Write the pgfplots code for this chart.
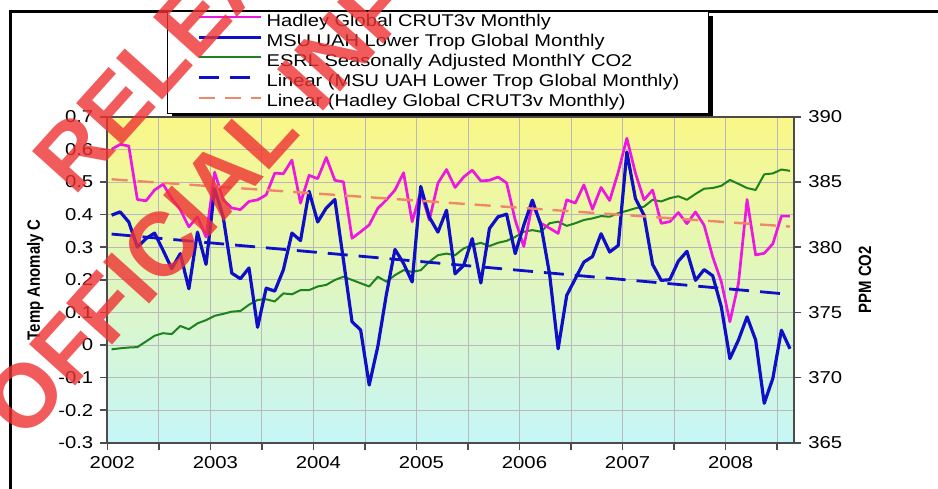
\documentclass[border=0pt]{standalone}
\usepackage{fontspec}
\setmainfont{Liberation Sans}
\newfontfamily\ticfont{Liberation Sans}[FakeStretch=1.18]
\newfontfamily\titfont{Liberation Sans}[FakeStretch=0.84]
\usepackage{pgfplots}
\usepackage{pgfplotstable}
\pgfplotsset{compat=1.18}

\definecolor{hadley}{RGB}{236,24,226}
\definecolor{uah}{RGB}{15,15,200}
\definecolor{co2}{RGB}{30,130,30}
\definecolor{trendh}{RGB}{240,135,105}
\definecolor{stamp}{RGB}{238,50,50}
\definecolor{bgtop}{RGB}{250,247,135}
\definecolor{bgbot}{RGB}{198,246,248}

% monthly values, x = month index + 0.5 (Jan 2002 = 0)
\pgfplotstableread{
m    had   uah    co2
0.5  0.600 0.398  372.16
1.5  0.615 0.408  372.24
2.5  0.610 0.377  372.30
3.5  0.446 0.300  372.33
4.5  0.442 0.326  372.76
5.5  0.475 0.343  373.20
6.5  0.493 0.290  373.40
7.5  0.449 0.234  373.33
8.5  0.415 0.280  373.95
9.5  0.362 0.172  373.70
10.5 0.393 0.346  374.15
11.5 0.331 0.247  374.40
12.5 0.530 0.479  374.73
13.5 0.445 0.392  374.88
14.5 0.420 0.220  375.05
15.5 0.415 0.203  375.10
16.5 0.440 0.236  375.58
17.5 0.445 0.054  375.95
18.5 0.460 0.174  376.00
19.5 0.527 0.165  375.83
20.5 0.525 0.230  376.45
21.5 0.567 0.343  376.38
22.5 0.435 0.320  376.70
23.5 0.520 0.471  376.70
24.5 0.510 0.377  376.98
25.5 0.575 0.420  377.10
26.5 0.505 0.446  377.48
27.5 0.500 0.260  377.73
28.5 0.327 0.071  377.48
29.5 0.347 0.046  377.23
30.5 0.368 -0.123 376.98
31.5 0.419 -0.005 377.73
32.5 0.445 0.155  377.35
33.5 0.475 0.293  377.85
34.5 0.528 0.250  378.23
35.5 0.378 0.193  378.10
36.5 0.470 0.486  378.23
37.5 0.383 0.392  378.88
38.5 0.496 0.346  379.38
39.5 0.538 0.413  379.50
40.5 0.483 0.218  379.38
41.5 0.515 0.244  379.90
42.5 0.536 0.326  380.15
43.5 0.503 0.190  380.33
44.5 0.505 0.357  380.08
45.5 0.515 0.393  380.33
46.5 0.497 0.401  380.48
47.5 0.383 0.280  380.78
48.5 0.302 0.367  381.18
49.5 0.430 0.444  381.30
50.5 0.373 0.367  381.18
51.5 0.358 0.218  381.83
52.5 0.342 -0.012 381.95
53.5 0.445 0.152  381.63
54.5 0.435 0.203  381.83
55.5 0.491 0.254  382.08
56.5 0.416 0.271  382.20
57.5 0.483 0.341  382.38
58.5 0.443 0.285  382.33
59.5 0.530 0.305  382.60
60.5 0.634 0.592  382.78
61.5 0.527 0.449  382.98
62.5 0.445 0.398  383.10
63.5 0.475 0.247  383.63
64.5 0.373 0.198  383.50
65.5 0.378 0.200  383.75
66.5 0.406 0.257  383.90
67.5 0.372 0.287  383.63
68.5 0.408 0.198  384.08
69.5 0.367 0.231  384.48
70.5 0.270 0.212  384.53
71.5 0.194 0.117  384.70
72.5 0.071 -0.042 385.15
73.5 0.189 0.015  384.85
74.5 0.446 0.086  384.53
75.5 0.276 0.015  384.38
76.5 0.281 -0.179 385.58
77.5 0.310 -0.103 385.65
78.5 0.395 0.045  385.95
79.5 0.395 -0.012 385.85
}\data

\begin{document}
\begin{tikzpicture}
\path[use as bounding box] (0,0) rectangle (469pt,244pt);

% chart frame and legend box, in image pixels (0.5pt each)
\begin{scope}[x=0.5pt, y=-0.5pt, shift={(0pt,244pt)}]
  \draw[line width=1.25pt] (10.5,495) -- (10.5,11.5) -- (945,11.5);
  \fill[black] (171.5,16) rectangle (712.5,117.3);
  \filldraw[fill=white, draw=black, line width=0.5pt] (167.5,12) rectangle (708.5,113.3);
\end{scope}

\pgfplotsset{
  base/.style={
    scale only axis, width=343.5pt, height=163pt,
    at={(53.65pt,22.65pt)}, anchor=south west,
    xmin=0, xmax=80,
    tick align=outside, major tick length=3.5pt,
    axis line style={black!70, line width=0.9pt},
    tick style={black!70, line width=0.8pt},
    ticklabel style={font=\ticfont\fontsize{8.6}{10}\selectfont},
    label style={font=\titfont\bfseries\fontsize{8.9}{10}\selectfont},
  }
}

% CO2 on the right axis, with background and grid
\begin{axis}[base,
  ymin=365, ymax=390,
  axis background/.style={top color=bgtop, bottom color=bgbot},
  xtick={0,6,...,78},
  xticklabels={2002,,2003,,2004,,2005,,2006,,2007,,2008,},
  xticklabel style={xshift=2.5pt},
  xtick pos=bottom, ytick pos=right, yticklabel pos=right,
  ytick={365,370,375,380,385,390},
  yticklabels={365,370,375,380,385,390},
  minor ytick={367.5,372.5,377.5,382.5,387.5},
  minor tick length=0pt,
  xmajorgrids, ymajorgrids, yminorgrids,
  major grid style={gray!55, line width=0.4pt},
  minor grid style={gray!55, line width=0.4pt},
  ylabel={PPM CO2},
  ylabel style={at={(axis description cs:1.103,0.5)}, anchor=center},
]
\addplot[co2, line width=1pt, line join=round] table[x=m, y=co2] {\data};
\end{axis}

% temperature anomalies on the left axis
\begin{axis}[base,
  ymin=-0.3, ymax=0.7,
  xtick=\empty,
  ytick={-0.3,-0.2,-0.1,0,0.1,0.2,0.3,0.4,0.5,0.6,0.7},
  yticklabels={-0.3,-0.2,-0.1,0,0.1,0.2,0.3,0.4,0.5,0.6,0.7},
  ytick pos=left,
  ylabel={Temp Anomaly C},
  ylabel style={at={(axis description cs:-0.105,0.5)}, anchor=center},
  legend style={at={(0.1306,1.3184)}, anchor=north west,
    draw=none, fill=none, inner sep=0pt, outer sep=0pt,
    row sep=0pt, column sep=2.2pt,
    font=\ticfont\fontsize{8.5}{10}\selectfont,
    nodes={inner sep=0pt, text height=6.55pt, text depth=3.55pt},
    cells={anchor=west}},
  legend image code/.code={\draw[#1] (0pt,3pt) -- (31pt,3pt);},
]
\addplot[hadley, line width=1.35pt, line join=round] table[x=m, y=had] {\data};
\addlegendentry{Hadley Global CRUT3v Monthly}
\addplot[uah, line width=1.6pt, line join=round] table[x=m, y=uah] {\data};
\addlegendentry{MSU UAH Lower Trop Global Monthly}
\addlegendimage{co2, line width=1pt}
\addlegendentry{ESRL Seasonally Adjusted MonthlY CO2}
\addplot[uah, line width=1.4pt, dash pattern=on 10pt off 5.5pt] coordinates {(0.5,0.340) (79.5,0.155)};
\addlegendentry{Linear (MSU UAH Lower Trop Global Monthly)}
\addplot[trendh, line width=1.2pt, dash pattern=on 8pt off 5pt] coordinates {(0.5,0.508) (79.5,0.363)};
\addlegendentry{Linear (Hadley Global CRUT3v Monthly)}
\end{axis}

% red release stamp over the chart
\begin{scope}[x=0.5pt, y=-0.5pt, shift={(0pt,244pt)}]
  \node[rotate=48, anchor=base west, inner sep=0pt, text=stamp, opacity=0.8,
        font=\bfseries\fontsize{45}{52}\selectfont] at (24.7,442.7) {OFFICIAL INFORMATION ACT};
  \node[rotate=48, anchor=base west, inner sep=0pt, text=stamp, opacity=0.8,
        font=\bfseries\fontsize{45}{52}\selectfont] at (74.4,197.8) {RELEASED UNDER THE};
\end{scope}
\end{tikzpicture}
\end{document}
